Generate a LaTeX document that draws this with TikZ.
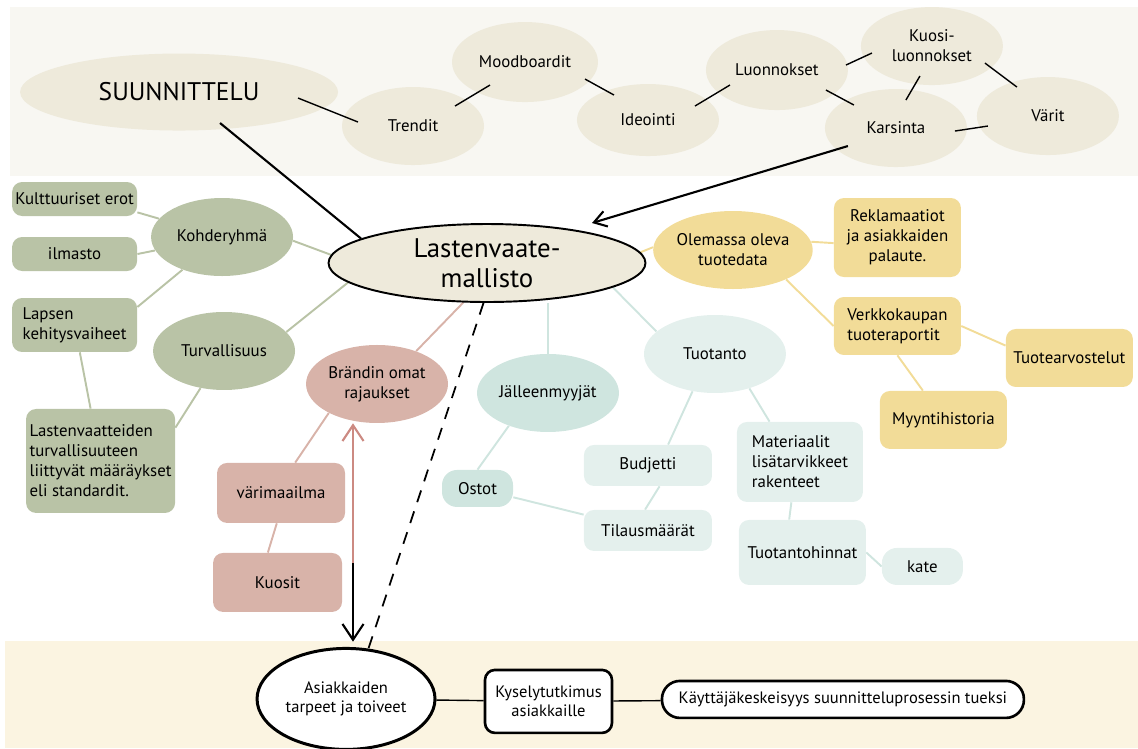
\documentclass[tikz,border=0pt]{standalone}
\usepackage{fontspec}
\setmainfont{PT Sans}
\usetikzlibrary{positioning,shapes.geometric,arrows.meta,backgrounds}

\definecolor{bandtop}{HTML}{F8F7F2}
\definecolor{bandbot}{HTML}{FBF4E1}
\definecolor{beige}{HTML}{EEEADB}
\definecolor{sage}{HTML}{B9C3A6}
\definecolor{rose}{HTML}{D8B3A9}
\definecolor{rosedark}{HTML}{CC8A82}
\definecolor{mint}{HTML}{CFE5DF}
\definecolor{pale}{HTML}{E4F0ED}
\definecolor{gold}{HTML}{F2DC98}

\newcommand\lblfnt{\fontsize{9.6}{11.4}\selectfont}
\newcommand\suunfnt{\fontsize{14.5}{17}\selectfont}
\newcommand\mainfnt{\fontsize{15.3}{17}\selectfont}
\newcommand\botfnt{\fontsize{9.4}{10.9}\selectfont}

\begin{document}
\begin{tikzpicture}[x=0.02cm, y=-0.02cm, on grid,
  ell/.style={ellipse, inner sep=0pt, minimum width=2.84cm, minimum height=1.56cm, align=center, font=\lblfnt},
  box/.style={rectangle, rounded corners=0.2cm, inner sep=0pt, align=center, font=\lblfnt},
  topell/.style={ell, fill=beige},
  sageell/.style={ell, fill=sage}, sagebox/.style={box, fill=sage},
  roseell/.style={ell, fill=rose}, rosebox/.style={box, fill=rose},
  mintell/.style={ell, fill=mint}, mintbox/.style={box, fill=mint},
  paleell/.style={ell, fill=pale}, palebox/.style={box, fill=pale},
  goldell/.style={ell, fill=gold}, goldbox/.style={box, fill=gold},
  toplink/.style={black, line width=0.8pt},
  boldlink/.style={black, line width=1.2pt},
  sagelink/.style={sage, line width=1.1pt},
  roselink/.style={rose, line width=1.1pt},
  mintlink/.style={mint, line width=1.1pt},
  goldlink/.style={gold, line width=1.1pt}]
 \useasboundingbox (0,0) rectangle (1138,748);

 \node[ell, fill=beige, draw=black, line width=1.1pt, minimum width=6.34cm, font=\mainfnt] (lvm) at (487,263) {Lastenvaate-\\mallisto};

 % suunnittelu
 \node[topell, above left=3.42cm and 6.16cm of lvm, minimum width=6.36cm, minimum height=1.54cm, font=\suunfnt] (suun) {SUUNNITTELU};
 \node[topell, below right=0.68cm and 4.68cm of suun] (trend) {Trendit};
 \node[topell, above right=1.28cm and 2.24cm of trend, minimum width=2.92cm, minimum height=1.6cm] (mood) {Moodboardit};
 \node[topell, below right=1.16cm and 2.46cm of mood, minimum height=1.44cm] (idea) {Ideointi};
 \node[topell, above right=1.0cm and 2.58cm of idea, minimum height=1.6cm] (luon) {Luonnokset};
 \node[topell, above right=0.48cm and 3.1cm of luon] (kuosi) {Kuosi-\\luonnokset};
 \node[topell, below right=1.16cm and 2.38cm of luon] (kars) {Karsinta};
 \node[topell, above right=0.24cm and 3.04cm of kars] (varit) {Värit};

 \node[sageell, above left=0.52cm and 5.3cm of lvm] (kohde) {Kohderyhmä};
 \node[sageell, below left=1.76cm and 5.26cm of lvm] (turva) {Turvallisuus};
 \node[sagebox, above left=0.76cm and 2.95cm of kohde, minimum width=2.5cm, minimum height=0.68cm] (kult) {Kulttuuriset erot};
 \node[sagebox, below left=0.34cm and 2.95cm of kohde, minimum width=2.5cm, minimum height=0.68cm] (ilma) {ilmasto};
 \node[sagebox, below left=1.76cm and 2.95cm of kohde, minimum width=2.5cm, minimum height=1.08cm, align=left] (lapsen) {Lapsen\\kehitysvaiheet};
 \node[sagebox, below left=2.2cm and 2.47cm of turva, minimum width=2.98cm, minimum height=2.08cm, align=left] (laste) {Lastenvaatteiden\\turvallisuuteen\\liittyvät määräykset\\eli standardit.};

 \node[roseell, below left=2.42cm and 2.2cm of lvm] (brand) {Brändin omat\\rajaukset};
 \node[rosebox, below left=2.18cm and 1.92cm of brand, minimum width=2.56cm, minimum height=1.2cm] (vari) {värimaailma};
 \node[rosebox, below left=1.79cm and 0.07cm of vari, minimum width=2.58cm, minimum height=1.18cm] (kuos) {Kuosit};

 \node[mintell, below right=2.6cm and 1.22cm of lvm] (jalle) {Jälleenmyyjät};
 \node[mintbox, below left=1.91cm and 1.41cm of jalle, minimum width=1.42cm, minimum height=0.74cm, rounded corners=0.3cm] (ostot) {Ostot};

 \node[paleell, below right=1.82cm and 4.56cm of lvm] (tuot) {Tuotanto};
 \node[palebox, below left=2.23cm and 1.34cm of tuot, minimum width=2.56cm, minimum height=0.82cm] (budj) {Budjetti};
 \node[palebox, below=1.3cm of budj, minimum width=2.56cm, minimum height=0.82cm] (tilaus) {Tilausmäärät};
 \node[palebox, below right=2.16cm and 1.7cm of tuot, minimum width=2.52cm, minimum height=1.6cm, align=left] (mater) {Materiaalit\\lisätarvikkeet\\rakenteet};
 \node[palebox, below right=1.81cm and 0.05cm of mater, minimum width=2.54cm, minimum height=1.3cm] (thinta) {Tuotantohinnat};
 \node[palebox, below right=0.28cm and 2.4cm of thinta, minimum width=1.62cm, minimum height=0.74cm, rounded corners=0.3cm] (kate) {kate};

 \node[goldell, above right=0.26cm and 4.92cm of lvm] (olem) {Olemassa oleva\\tuotedata};
 \node[goldbox, above right=0.25cm and 3.29cm of olem, minimum width=2.54cm, minimum height=1.58cm] (rekla) {Reklamaatiot\\ja asiakkaiden\\palaute.};
 \node[goldbox, below right=1.52cm and 3.29cm of olem, minimum width=2.54cm, minimum height=1.16cm, align=left] (verkko) {Verkkokaupan\\tuoteraportit};
 \node[goldbox, below right=0.64cm and 3.44cm of verkko, minimum width=2.54cm, minimum height=1.16cm] (arvos) {Tuotearvostelut};
 \node[goldbox, below right=1.88cm and 0.92cm of verkko, minimum width=2.54cm, minimum height=1.16cm] (myynti) {Myyntihistoria};

 % asiakkaat
 \node[ell, draw=black, fill=white, line width=1.7pt, minimum width=3.56cm, minimum height=2.02cm, font=\botfnt, below left=6.3cm and 0.62cm of brand] (asiak) {Asiakkaiden\\tarpeet ja toiveet};
 \node[box, draw=black, fill=white, line width=1.5pt, minimum width=2.54cm, minimum height=1.26cm, font=\botfnt, below right=0.05cm and 4.05cm of asiak] (kysely) {Kyselytutkimus\\asiakkaille};
 \node[box, draw=black, fill=white, line width=1.5pt, rounded corners=0.36cm, minimum width=7.24cm, minimum height=0.74cm, font=\botfnt, above right=0.04cm and 5.89cm of kysely] (kayt) {Käyttäjäkeskeisyys suunnitteluprosessin tueksi};

 \begin{scope}[on background layer]
  \fill[bandtop] (10,7) rectangle (1138,176);
  \fill[bandbot] (5,641) rectangle (1138,748);
  \draw[sagelink] (kult.-12) -- (kohde);
  \draw[sagelink] (ilma.east) -- (kohde);
  \draw[sagelink] (lapsen.16) -- (kohde);
  \draw[sagelink] (lapsen) -- (laste);
  \draw[sagelink] (turva) -- (laste.24);
  \draw[sagelink] (kohde.-3) -- (lvm.177);
  \draw[sagelink] (turva.17) -- (lvm.188);
  \draw[roselink] (brand.40) -- (lvm.239);
  \draw[roselink] (brand.211) -- (vari.65);
  \draw[roselink] (vari.262) -- (kuos.108);
  \draw[mintlink] (jalle.north) -- (jalle.north |- lvm.south);
  \draw[mintlink] (jalle.220) -- (ostot.north);
  \draw[mintlink] (ostot) -- (tilaus);
  \draw[mintlink] (lvm.-11) -- (tuot.159);
  \draw[mintlink] (tuot.239) -- (budj.46);
  \draw[mintlink] (budj.-61) -- (tilaus.98);
  \draw[mintlink] (tuot.-45) -- (mater.127);
  \draw[mintlink] (mater.258) -- (thinta.112);
  \draw[mintlink] (thinta.east) -- (kate.west);
  \draw[goldlink] (lvm.4) -- (olem.178);
  \draw[goldlink] (olem.6) -- (rekla.185);
  \draw[goldlink] (olem.-29) -- (verkko.west);
  \draw[goldlink] (verkko.east) -- (arvos.169);
  \draw[goldlink] (verkko.south) -- (myynti.125);
 \end{scope}

 \draw[toplink] ([shift={(119,6)}]suun.center) -- ([shift={(-55,-4)}]trend.center);
 \draw[toplink] ([shift={(42,-20)}]trend.center) -- ([shift={(-35,23)}]mood.center);
 \draw[toplink] ([shift={(60,17)}]mood.center) -- ([shift={(-34,-25)}]idea.center);
 \draw[toplink] ([shift={(47,-14)}]idea.center) -- ([shift={(-47,15)}]luon.center);
 \draw[toplink] ([shift={(69,-5)}]luon.center) -- ([shift={(-60,7)}]kuosi.center);
 \draw[toplink] ([shift={(49,20)}]luon.center) -- ([shift={(-42,-23)}]kars.center);
 \draw[toplink] ([shift={(-12,30)}]kuosi.center) -- ([shift={(10,-28)}]kars.center);
 \draw[toplink] ([shift={(53,17)}]kuosi.center) -- ([shift={(-31,-29)}]varit.center);
 \draw[toplink] ([shift={(59,3)}]kars.center) -- ([shift={(-60,10)}]varit.center);

 \draw[boldlink] ([shift={(41,31)}]suun.center) -- (lvm.169);
 \draw[boldlink, -{Straight Barb[length=7pt,width=9pt]}] ([shift={(-48,18)}]kars.center) -- ([shift={(105,-40)}]lvm.center);
 \draw[boldlink, line width=1pt, dash pattern=on 7pt off 5.5pt] (lvm.265) -- (asiak.66);
 \coordinate (split) at (353,563);
 \draw[boldlink, rosedark, -{Straight Barb[length=9pt,width=12pt]}] (split) -- (split |- brand.south);
 \draw[boldlink, shorten >=3pt, -{Straight Barb[length=9pt,width=12pt]}] (split) -- (split |- asiak.north);
 \draw[toplink] (asiak) -- (kysely);
 \draw[toplink] (kysely) -- (kayt);
\end{tikzpicture}
\end{document}
